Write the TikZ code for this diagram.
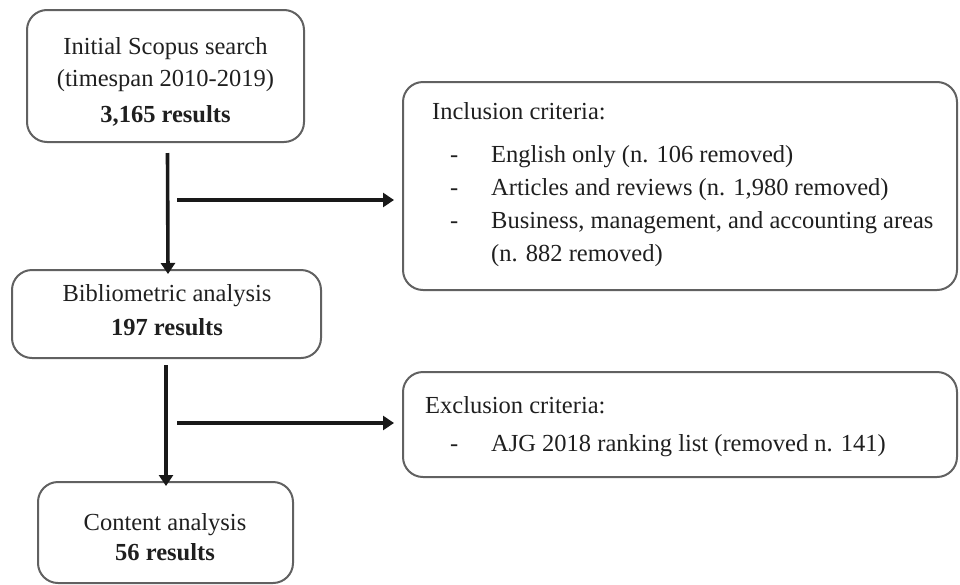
\documentclass[tikz,border=0pt]{standalone}
\usepackage{fontspec}
\setmainfont{Liberation Serif}
\usetikzlibrary{arrows.meta,calc}
\begin{document}
\begin{tikzpicture}[x=1pt,y=-1pt,
  box/.style={draw=black!62, line width=2pt, rounded corners=20pt, inner sep=0pt},
  txt/.style={anchor=base, inner sep=0pt, text=black!88, font=\fontsize{24.5}{28}\selectfont},
  ltxt/.style={txt, anchor=base west},
  arr/.style={line width=3.6pt, black!90, -{Triangle[length=11pt,width=14pt]}}]
\useasboundingbox (0,0) rectangle (960,584);
% left boxes
\node[box, minimum width=277pt, minimum height=132pt] (b1) at (165.5,76) {};
\node[box, minimum width=309pt, minimum height=88pt] (b2) at (166.5,314) {};
\node[box, minimum width=255pt, minimum height=101pt] (b3) at (165.5,532.5) {};
% right boxes
\node[box, minimum width=554pt, minimum height=208pt] (r1) at (680,186) {};
\node[box, minimum width=554pt, minimum height=105pt] (r2) at (680,424.5) {};
% texts left
\node[txt] (t1a) at (165.5,54) {Initial Scopus search};
\node[txt] (t1b) at (165.5,86) {(timespan 2010-2019)};
\node[txt] (t1c) at (165.5,122) {\textbf{3,165 results}};
\node[txt] (t2a) at (167,301) {Bibliometric analysis};
\node[txt] (t2b) at (167,335) {\textbf{197 results}};
\node[txt] (t3a) at (165,530) {Content analysis};
\node[txt] (t3b) at (165,560) {\textbf{56 results}};
% texts right
\node[ltxt] (i0) at (432,119) {Inclusion criteria:};
\node[ltxt] (d1) at (450,162) {-};
\node[ltxt] (i1) at (491,162) {English only (n. 106 removed)};
\node[ltxt] (d2) at (450,195) {-};
\node[ltxt] (i2) at (491,195) {Articles and reviews (n. 1,980 removed)};
\node[ltxt] (d3) at (450,228) {-};
\node[ltxt] (i3) at (491,228) {Business, management, and accounting areas};
\node[ltxt] (i4) at (491,261) {(n. 882 removed)};
\node[ltxt] (e0) at (425,413) {Exclusion criteria:};
\node[ltxt] (d5) at (450,451) {-};
\node[ltxt] (e1) at (491,451) {AJG 2018 ranking list (removed n. 141)};
% arrows
\coordinate (h1) at (177,200);
\coordinate (h2) at (177,423);
\draw[arr] ([xshift=2pt,yshift=-10pt]b1.south) -- ([xshift=1.5pt,yshift=-5pt]b2.north);
\draw[arr] (h1) -- ([xshift=-8pt]r1.west |- h1);
\draw[arr] ([xshift=-0.5pt,yshift=-6pt]b2.south) -- ([xshift=0.5pt,yshift=-5pt]b3.north);
\draw[arr] (h2) -- ([xshift=-8pt]r2.west |- h2);
\end{tikzpicture}
\end{document}
